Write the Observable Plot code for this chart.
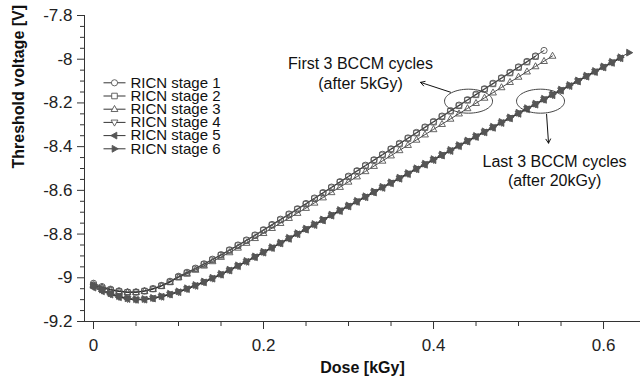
<!DOCTYPE html>
<html><head><meta charset="utf-8">
<script src="https://cdn.jsdelivr.net/npm/d3@7"></script>
<script src="https://cdn.jsdelivr.net/npm/@observablehq/plot@0.6"></script>
<style>body{margin:0;background:#fff;} #chart{width:641px;height:385px;}</style>
</head><body><div id="chart"></div>
<script>
// ---- data ----
const dose = [0,0.01,0.02,0.03,0.04,0.05,0.06,0.07,0.08,0.09,0.10,0.11,0.12,0.13,0.14,0.15,0.16,0.17,0.18,0.19,0.20,0.21,0.22,0.23,0.24,0.25,0.26,0.27,0.28,0.29,0.30,0.31,0.32,0.33,0.34,0.35,0.36,0.37,0.38,0.39,0.40,0.41,0.42,0.43,0.44,0.45,0.46,0.47,0.48,0.49,0.50,0.51,0.52,0.53,0.54,0.55,0.56,0.57,0.58,0.59,0.60,0.61,0.62,0.63];
const stage1 = [-9.025,-9.040,-9.052,-9.060,-9.065,-9.065,-9.060,-9.050,-9.035,-9.016,-8.993,-8.975,-8.956,-8.936,-8.915,-8.894,-8.872,-8.850,-8.827,-8.804,-8.780,-8.756,-8.732,-8.708,-8.684,-8.660,-8.635,-8.610,-8.585,-8.560,-8.535,-8.510,-8.485,-8.460,-8.435,-8.410,-8.385,-8.360,-8.335,-8.310,-8.285,-8.260,-8.235,-8.210,-8.185,-8.160,-8.135,-8.110,-8.085,-8.060,-8.035,-8.010,-7.985,-7.960];
const stage2 = [-9.035,-9.046,-9.056,-9.063,-9.067,-9.066,-9.061,-9.051,-9.037,-9.019,-8.997,-8.978,-8.959,-8.939,-8.918,-8.897,-8.875,-8.853,-8.830,-8.807,-8.783,-8.759,-8.735,-8.711,-8.687,-8.663,-8.638,-8.613,-8.588,-8.563,-8.538,-8.513,-8.488,-8.463,-8.438,-8.413,-8.388,-8.363,-8.338,-8.313,-8.288,-8.263,-8.238,-8.213,-8.188,-8.163,-8.138,-8.113,-8.088,-8.063,-8.038,-8.013,-7.988];
const stage3 = [-9.030,-9.044,-9.055,-9.062,-9.066,-9.066,-9.061,-9.052,-9.038,-9.020,-8.998,-8.982,-8.964,-8.945,-8.925,-8.905,-8.884,-8.863,-8.841,-8.819,-8.796,-8.773,-8.750,-8.727,-8.704,-8.681,-8.657,-8.633,-8.609,-8.585,-8.561,-8.537,-8.513,-8.489,-8.465,-8.441,-8.417,-8.393,-8.369,-8.345,-8.321,-8.297,-8.273,-8.249,-8.225,-8.201,-8.177,-8.153,-8.129,-8.105,-8.081,-8.057,-8.033,-8.009,-7.985];
const stage4 = [-9.040,-9.058,-9.074,-9.087,-9.096,-9.100,-9.099,-9.094,-9.086,-9.076,-9.065,-9.051,-9.036,-9.020,-9.003,-8.985,-8.966,-8.946,-8.926,-8.905,-8.884,-8.863,-8.842,-8.820,-8.799,-8.778,-8.757,-8.736,-8.714,-8.693,-8.672,-8.651,-8.630,-8.608,-8.587,-8.566,-8.545,-8.524,-8.502,-8.481,-8.460,-8.439,-8.418,-8.396,-8.375,-8.354,-8.333,-8.312,-8.290,-8.269,-8.248,-8.227,-8.206,-8.184,-8.163,-8.142,-8.121,-8.100,-8.078,-8.057,-8.036,-8.015,-7.994];
const stage5 = [-9.045,-9.062,-9.077,-9.089,-9.097,-9.101,-9.100,-9.095,-9.087,-9.077,-9.066,-9.052,-9.037,-9.021,-9.004,-8.986,-8.967,-8.947,-8.927,-8.906,-8.885,-8.864,-8.843,-8.822,-8.801,-8.780,-8.759,-8.738,-8.716,-8.695,-8.674,-8.653,-8.632,-8.610,-8.589,-8.568,-8.547,-8.526,-8.504,-8.483,-8.462,-8.441,-8.420,-8.398,-8.377,-8.356,-8.335,-8.314,-8.292,-8.271,-8.250,-8.229,-8.208,-8.186,-8.165,-8.144,-8.123,-8.102,-8.080,-8.059,-8.038,-8.017,-7.996];
const stage6 = [-9.035,-9.054,-9.071,-9.084,-9.094,-9.098,-9.097,-9.092,-9.084,-9.073,-9.062,-9.048,-9.033,-9.017,-9.000,-8.982,-8.963,-8.943,-8.923,-8.902,-8.881,-8.860,-8.839,-8.817,-8.796,-8.775,-8.754,-8.733,-8.711,-8.690,-8.669,-8.648,-8.627,-8.605,-8.584,-8.563,-8.542,-8.521,-8.499,-8.478,-8.457,-8.436,-8.415,-8.393,-8.372,-8.351,-8.330,-8.309,-8.287,-8.266,-8.245,-8.224,-8.203,-8.181,-8.160,-8.139,-8.118,-8.097,-8.075,-8.054,-8.033,-8.012,-7.991,-7.970];
const stageNames = ["RICN stage 1","RICN stage 2","RICN stage 3","RICN stage 4","RICN stage 5","RICN stage 6"];

const xTicks = [0, 0.2, 0.4, 0.6];
const xTickLabels = ["0", "0.2", "0.4", "0.6"];
const xMinorTicks = [0.05, 0.1, 0.15, 0.25, 0.3, 0.35, 0.45, 0.5, 0.55];
const yTicks = [-7.8, -8, -8.2, -8.4, -8.6, -8.8, -9, -9.2];
const yTickLabels = ["-7.8", "-8", "-8.2", "-8.4", "-8.6", "-8.8", "-9", "-9.2"];
const yMinorTicks = [-7.85,-7.9,-7.95,-8.05,-8.1,-8.15,-8.25,-8.3,-8.35,-8.45,-8.5,-8.55,-8.65,-8.7,-8.75,-8.85,-8.9,-8.95,-9.05,-9.1,-9.15];
const xDomain = [-0.0106, 0.6435];
const yDomain = [-9.2, -7.8];

const xLabel = "Dose [kGy]";
const yLabel = "Threshold voltage [V]";

// annotations (data coordinates)
const noteText = ["First 3 BCCM cycles", "(after 5kGy)", "Last 3 BCCM cycles", "(after 20kGy)"];
const noteX = [0.3141, 0.3141, 0.5424, 0.5424];
const noteY = [-8.022, -8.114, -8.470, -8.557];
const ellipseX = [0.4412, 0.5259];
const ellipseY = [-8.192, -8.192];
const arrowX1 = [0.420, 0.533];
const arrowY1 = [-8.151, -8.252];
const arrowX2 = [0.3847, 0.5353];
const arrowY2 = [-8.106, -8.384];

// ---- symbols ----
function poly(pts) {
  return {draw(ctx, size) {
    const r = Math.sqrt(size / Math.PI);
    ctx.moveTo(pts[0][0] * r, pts[0][1] * r);
    for (let i = 1; i < pts.length; i++) ctx.lineTo(pts[i][0] * r, pts[i][1] * r);
    ctx.closePath();
  }};
}
const symSquare = poly([[-0.9,-0.9],[0.9,-0.9],[0.9,0.9],[-0.9,0.9]]);
const symUp = poly([[0,-1.2],[1.1,0.75],[-1.1,0.75]]);
const symDown = poly([[0,1.2],[1.1,-0.75],[-1.1,-0.75]]);
const symLeft = poly([[-1.2,0],[0.75,-1.1],[0.75,1.1]]);
const symRight = poly([[1.2,0],[-0.75,-1.1],[-0.75,1.1]]);
const symLine = {draw(ctx) { ctx.moveTo(-11, 0); ctx.lineTo(11, 0); }};
const symEllipse = {draw(ctx) {
  const rx = 24, ry = 12, k = 0.5523;
  ctx.moveTo(rx, 0);
  ctx.bezierCurveTo(rx, ry * k, rx * k, ry, 0, ry);
  ctx.bezierCurveTo(-rx * k, ry, -rx, ry * k, -rx, 0);
  ctx.bezierCurveTo(-rx, -ry * k, -rx * k, -ry, 0, -ry);
  ctx.bezierCurveTo(rx * k, -ry, rx, -ry * k, rx, 0);
  ctx.closePath();
}};

const seriesValues = [stage1, stage2, stage3, stage4, stage5, stage6];
const seriesSymbols = ["circle", symSquare, symUp, symDown, symLeft, symRight];
const seriesFill = ["none", "none", "none", "none", "#555", "#555"];

const rows = seriesValues.flatMap((vals, s) => vals.map((v, i) => ({stage: stageNames[s], s, dose: dose[i], v})));

const font = "'Liberation Sans', Arial, sans-serif";
const lineColor = "#1e1e1e";
const markColor = "#555";

const marks = [
  Plot.ruleX([xDomain[0]], {stroke: "#333", strokeWidth: 1}),
  Plot.ruleY([yDomain[0]], {stroke: "#333", strokeWidth: 1}),
  Plot.axisY(yTicks, {tickSize: 7, tickPadding: 5, tickFormat: d => yTickLabels[yTicks.indexOf(d)], fontSize: 17, stroke: "#333", label: null}),
  Plot.axisY(yMinorTicks, {tickSize: 4, tickFormat: () => "", stroke: "#333", label: null}),
  Plot.axisX(xTicks, {tickSize: 8, tickPadding: 9, tickFormat: d => xTickLabels[xTicks.indexOf(d)], fontSize: 17, stroke: "#333", label: null}),
  Plot.axisX(xMinorTicks, {tickSize: 5, tickFormat: () => "", stroke: "#333", label: null}),
  Plot.text([xLabel], {frameAnchor: "bottom", dy: 51, fontWeight: "bold", fontSize: 16, fill: "#111"}),
  Plot.text([yLabel], {frameAnchor: "left", dx: -66, rotate: -90, fontWeight: "bold", fontSize: 16, fill: "#111"}),
];

seriesValues.forEach((vals, s) => {
  const data = rows.filter(d => d.s === s);
  marks.push(Plot.line(data, {x: "dose", y: "v", stroke: lineColor, strokeWidth: 0.8}));
});
seriesValues.forEach((vals, s) => {
  const data = rows.filter(d => d.s === s);
  marks.push(Plot.dot(data, {x: "dose", y: "v", r: 3.1, symbol: seriesSymbols[s], stroke: markColor, strokeWidth: 0.9, fill: seriesFill[s]}));
});

// legend
stageNames.forEach((name, s) => {
  const dy = 67.3 + s * 13.2;
  marks.push(Plot.dot([name], {frameAnchor: "top-left", dx: 30, dy, symbol: symLine, r: 3, stroke: lineColor, strokeWidth: 0.9, fill: "none"}));
  marks.push(Plot.dot([name], {frameAnchor: "top-left", dx: 30, dy, symbol: seriesSymbols[s], r: 3.1, stroke: markColor, strokeWidth: 0.9, fill: seriesFill[s] === "none" ? "white" : seriesFill[s]}));
  marks.push(Plot.text([name], {frameAnchor: "top-left", dx: 46, dy, text: d => d, textAnchor: "start", lineAnchor: "middle", fontSize: 15, fill: "#111"}));
});

// annotations
marks.push(Plot.dot(ellipseX, {x: d => d, y: (d, i) => ellipseY[i], symbol: symEllipse, stroke: "#444", strokeWidth: 1, fill: "none"}));
marks.push(Plot.arrow(arrowX1, {x1: d => d, y1: (d, i) => arrowY1[i], x2: (d, i) => arrowX2[i], y2: (d, i) => arrowY2[i], stroke: "#111", strokeWidth: 1, headLength: 7}));
marks.push(Plot.text(noteText, {x: (d, i) => noteX[i], y: (d, i) => noteY[i], text: d => d, fontSize: 16, fill: "#111", textAnchor: "middle"}));

const chart = Plot.plot({
  width: 641, height: 385,
  marginLeft: 84, marginRight: 1, marginTop: 15, marginBottom: 64,
  x: {domain: xDomain, axis: null},
  y: {domain: yDomain, axis: null},
  style: {fontFamily: font, fontSize: "16px", color: "#222", background: "#fff", overflow: "visible"},
  marks
});
document.getElementById("chart").appendChild(chart);
</script>
</body></html>
